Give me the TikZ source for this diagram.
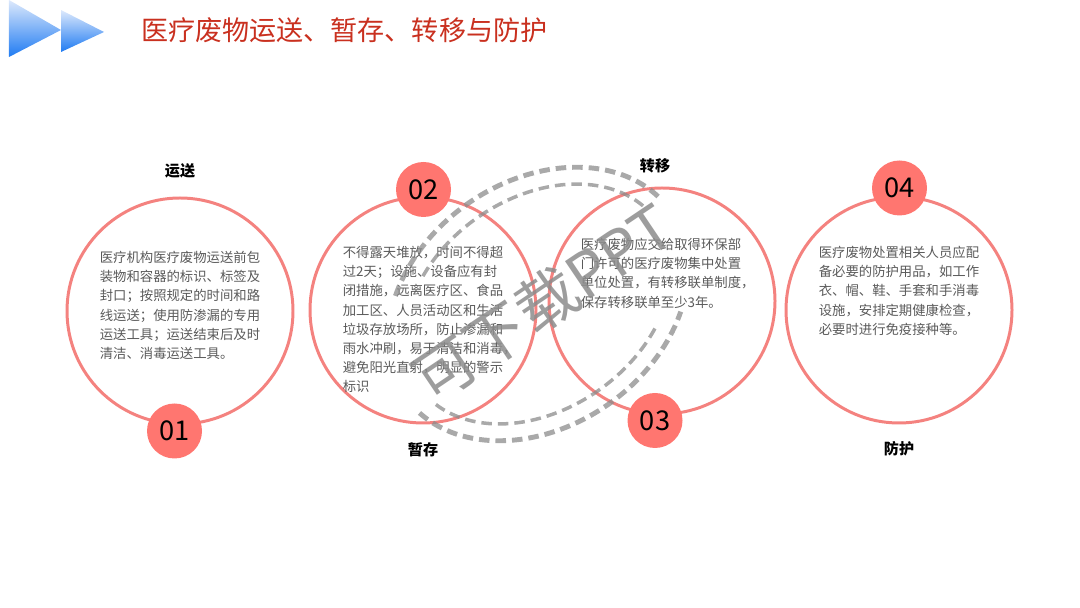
\documentclass[tikz,border=0pt]{standalone}
\usepackage{fontspec}
\usepackage{xcolor}
\usepackage{tikz}
\usetikzlibrary{positioning, shapes, calc}
\setmainfont{Noto Sans CJK SC}
\definecolor{ringred}{HTML}{F4827F}
\definecolor{badgered}{HTML}{FF7670}
\definecolor{titlered}{HTML}{C9301F}
\definecolor{bodygray}{HTML}{5A5A5A}
\definecolor{stampgray}{HTML}{8C8C8C}
\definecolor{arrowtop}{HTML}{DDE9FC}
\definecolor{arrowbottom}{HTML}{1F7BF2}

\begin{document}
\begin{tikzpicture}[
    ring/.style={circle, draw=ringred, line width=1.7pt, minimum size=4.52cm, inner sep=0pt},
    badge/.style={circle, fill=badgered, minimum size=1.1cm, inner sep=0pt, font=\fontsize{15.5}{15.5}\selectfont},
    heading/.style={font=\fontsize{8.6}{10}\selectfont\bfseries, black},
    body/.style={anchor=north west, align=left, inner sep=0pt, text=bodygray, font=\fontsize{7.6}{10.9}\selectfont},
    stampline/.style={draw=stampgray, opacity=0.75, dash pattern=on 6pt off 3.4pt}
]
    \useasboundingbox (0, 0) rectangle (21.6, 12.16);

    % arrows in the corner
    \shade[top color=arrowtop, bottom color=arrowbottom] (0.18, 12.16) -- (1.22, 11.56) -- (0.18, 11.02) -- cycle;
    \shade[top color=arrowtop, bottom color=arrowbottom] (1.22, 11.96) -- (2.08, 11.52) -- (1.22, 11.12) -- cycle;
    \node[anchor=west, inner sep=0pt, titlered, font=\fontsize{15.4}{18}\selectfont] (title) at (2.82, 11.56) {医疗废物运送、暂存、转移与防护};

    \node[ring] (c1) at (3.6, 5.94) {};
    \node[ring] (c2) at (8.46, 5.96) {};
    \node[ring] (c3) at (13.24, 6.14) {};
    \node[ring] (c4) at (17.98, 5.96) {};

    \node[badge] (b1) at (3.49, 3.54) {\raisebox{-2.8pt}{01}};
    \node[badge] (b2) at (8.47, 8.37) {\raisebox{-2.8pt}{02}};
    \node[badge] (b3) at (13.1, 3.75) {\raisebox{-2.8pt}{03}};
    \node[badge] (b4) at (17.99, 8.4) {\raisebox{-2.8pt}{04}};

    \node[heading] (h1) at (3.6, 8.74) {运送};
    \node[heading] (h2) at (8.46, 3.16) {暂存};
    \node[heading] (h3) at (13.1, 8.84) {转移};
    \node[heading] (h4) at (17.98, 3.18) {防护};

    \node[body] (t1) at (1.99, 7.14) {医疗机构医疗废物运送前包\\装物和容器的标识、标签及\\封口；按照规定的时间和路\\线运送；使用防渗漏的专用\\运送工具；运送结束后及时\\清洁、消毒运送工具。};
    \node[body] (t2) at (6.85, 7.24) {不得露天堆放，时间不得超\\过2天；设施、设备应有封\\闭措施，远离医疗区、食品\\加工区、人员活动区和生活\\垃圾存放场所，防止渗漏和\\雨水冲刷，易于清洁和消毒，\\避免阳光直射，明显的警示\\标识};
    \node[body] (t3) at (11.61, 7.4) {医疗废物应交给取得环保部\\门许可的医疗废物集中处置\\单位处置，有转移联单制度，\\保存转移联单至少3年。};
    \node[body] (t4) at (16.37, 7.24) {医疗废物处置相关人员应配\\备必要的防护用品，如工作\\衣、帽、鞋、手套和手消毒\\设施，安排定期健康检查，\\必要时进行免疫接种等。};

    % stamp
    \begin{scope}[shift={(10.76, 6.08)}, rotate=35]
        \draw[stampline, line width=2.8pt] (9:3.24 and 2.45) arc[start angle=9, end angle=134, x radius=3.24, y radius=2.45];
        \draw[stampline, line width=2.8pt] (190:3.24 and 2.45) arc[start angle=190, end angle=314, x radius=3.24, y radius=2.45];
        \draw[stampline, line width=2pt] (11:2.9 and 2.11) arc[start angle=11, end angle=125, x radius=2.9, y radius=2.11];
        \draw[stampline, line width=2pt] (193:2.9 and 2.11) arc[start angle=193, end angle=306, x radius=2.9, y radius=2.11];
    \end{scope}
    \node[rotate=34, text=stampgray, opacity=0.85, font=\fontsize{35}{35}\selectfont] (stamp) at (10.86, 6.1) {可下载PPT};
\end{tikzpicture}
\end{document}
